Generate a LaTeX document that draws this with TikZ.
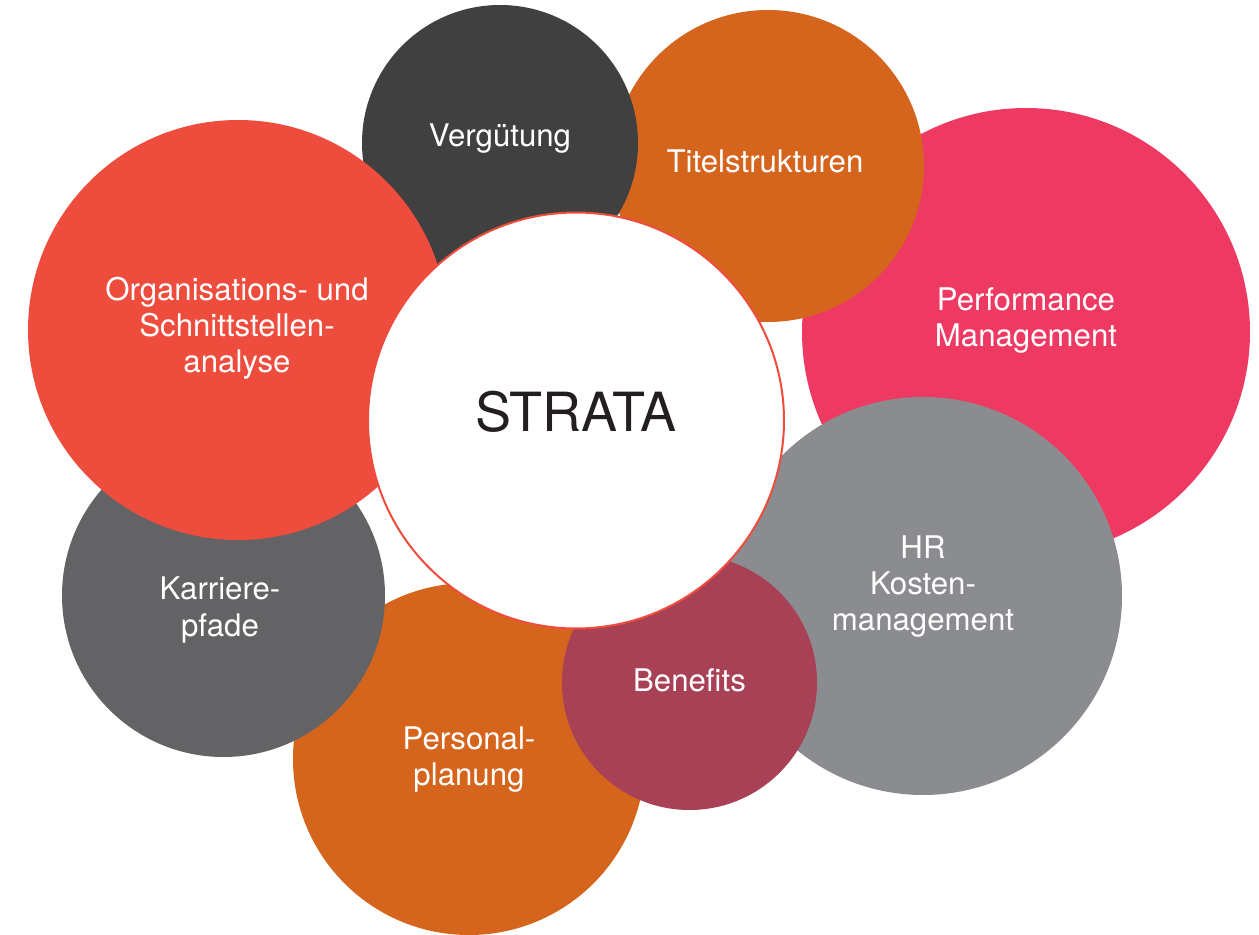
\documentclass[tikz,border=0pt]{standalone}
\usepackage{fontspec}
\setmainfont{TeX Gyre Heros}
\definecolor{cPerf}{HTML}{EE3A63}
\definecolor{cOrange}{HTML}{D5641C}
\definecolor{cVerg}{HTML}{404040}
\definecolor{cHR}{HTML}{8B8C90}
\definecolor{cBen}{HTML}{A84156}
\definecolor{cKarr}{HTML}{636366}
\definecolor{cOrg}{HTML}{EE4C3D}
\definecolor{cInk}{HTML}{231F20}
\begin{document}
\begin{tikzpicture}[x=0.5pt,y=-0.5pt,
  bubble/.style={circle, inner sep=0pt, outer sep=0pt, minimum size=#1pt},
  lbl/.style={text=white, align=center, anchor=base, inner sep=0pt,
    font=\fontsize{15.6pt}{18pt}\selectfont}]
\useasboundingbox (0,0) rectangle (1259,935);

% bubbles, back to front
\node[bubble=224, fill=cPerf] (perf) at (1026,332) {};
\node[bubble=156, fill=cOrange] (titel) at (768,166) {};
\node[bubble=138, fill=cVerg] (verg) at (500,143) {};
\node[bubble=199, fill=cHR] (hr) at (923,596) {};
\node[bubble=176, fill=cOrange] (pers) at (469,759) {};
\node[bubble=127.5, fill=cBen] (ben) at (689.5,682.5) {};
\node[bubble=161.5, fill=cKarr] (karr) at (223.5,595.5) {};
\node[bubble=210, fill=cOrg] (org) at (238,330) {};
\node[bubble=208, fill=white, draw=cOrg, line width=1pt] (strata) at (576,420.5) {};

% labels (anchored at the baseline of their last line)
\node[lbl] (verg-t) at (500,147) {Vergütung};
\node[lbl] (titel-t) at (765,173) {Titelstrukturen};
\node[lbl] (perf-t) at (1026,347) {Performance\\Management};
\node[lbl] (org-t) at (237,373) {Organisations- und\\Schnittstellen-\\analyse};
\node[lbl] (hr-t) at (923,631) {HR\\Kosten-\\management};
\node[lbl] (karr-t) at (220,636) {Karriere-\\pfade};
\node[lbl] (ben-t) at (689.5,691) {Benefits};
\node[lbl] (pers-t) at (469,785) {Personal-\\planung};
\node[anchor=base, inner sep=0pt, text=cInk, font=\fontsize{27pt}{30pt}\selectfont] (strata-t) at (576,432) {STRATA};
\end{tikzpicture}
\end{document}
